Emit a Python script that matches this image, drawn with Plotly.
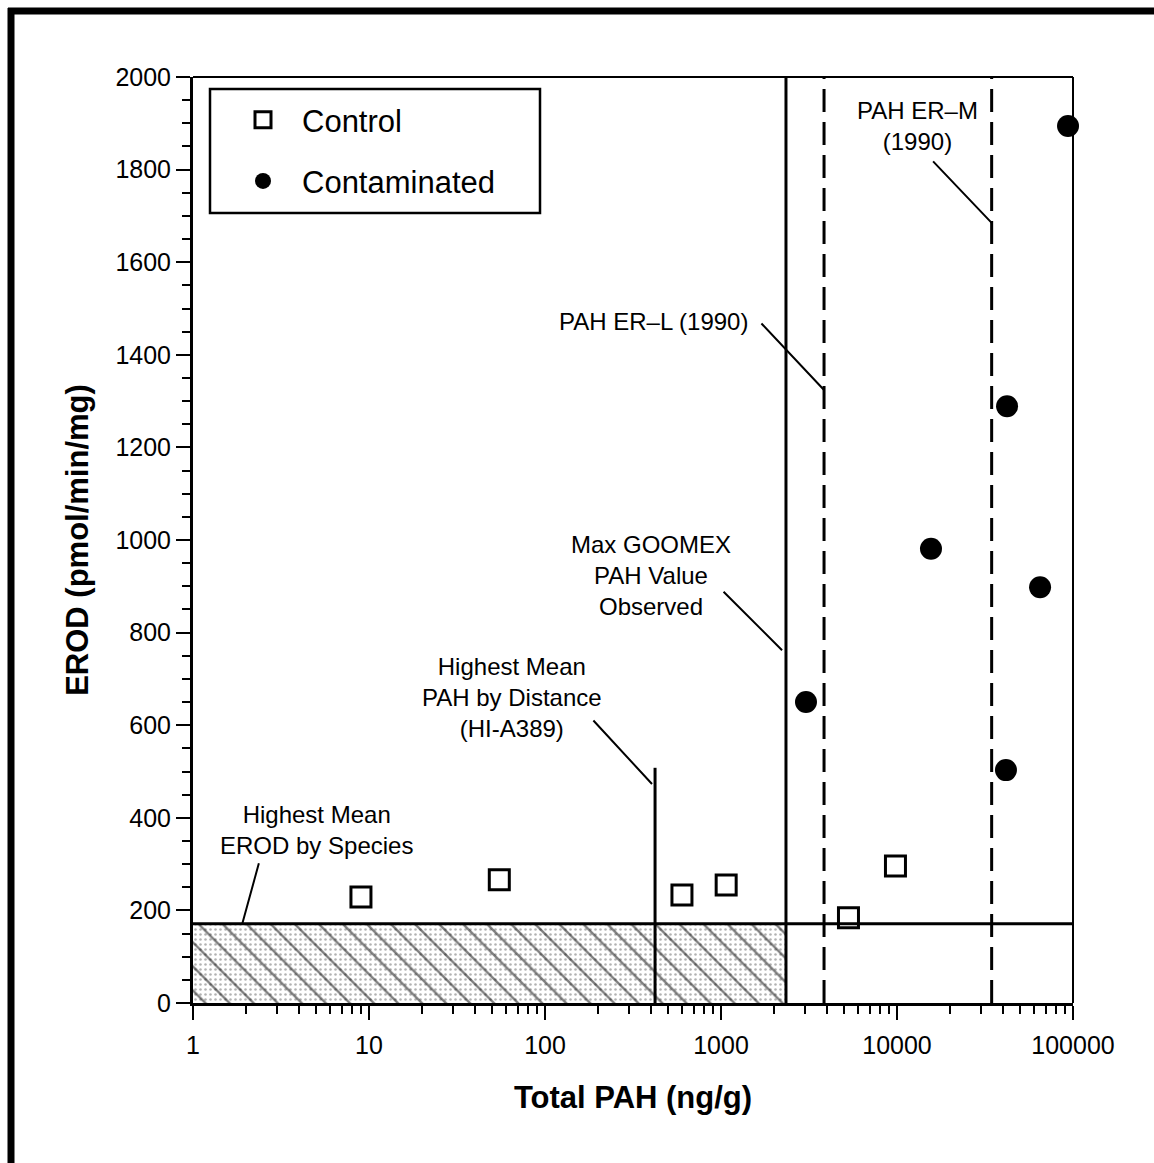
import math
import plotly.graph_objects as go

# ---- data -------------------------------------------------------------
control_pah = [9, 55, 600, 1070, 5300, 9800]
control_erod = [229, 266, 233, 255, 184, 296]

contam_pah = [3040, 15600, 42200, 41600, 65000, 93700]
contam_erod = [650, 981, 1289, 503, 898, 1894]

max_erod_by_species = 171      # EROD (pmol/min/mg)
max_goomex_pah = 2340          # ng/g
hi_a389_pah = 422              # ng/g
hi_a389_top = 508              # EROD extent of the HI-A389 marker line
er_l_1990 = 3850               # ng/g
er_m_1990 = 34500              # ng/g

x_ticks = [1, 10, 100, 1000, 10000, 100000]
x_tick_labels = ["1", "10", "100", "1000", "10000", "100000"]
y_ticks = list(range(0, 2001, 200))

# ---- layout geometry (pixels) ------------------------------------------
W, H = 1154, 1163
L, R, T, B = 193, 1073, 77, 1003
FONT = "Liberation Sans, Arial, Helvetica, sans-serif"


def px(x):
    return (x - L) / (R - L)


def py(y):
    return (B - y) / (B - T)


fig = go.Figure()

# shaded "background" zone: stipple + diagonal hatching
zone_x = [1, max_goomex_pah, max_goomex_pah, 1, 1]
zone_y = [0, 0, max_erod_by_species, max_erod_by_species, 0]
fig.add_trace(go.Scatter(
    x=zone_x, y=zone_y, mode="lines", line=dict(width=0),
    fill="toself", fillcolor="white",
    fillpattern=dict(shape=".", fgcolor="#666666", bgcolor="white",
                     size=5, solidity=0.2),
    hoverinfo="skip", showlegend=False))
fig.add_trace(go.Scatter(
    x=zone_x, y=zone_y, mode="lines", line=dict(width=0),
    fill="toself", fillcolor="rgba(0,0,0,0)",
    fillpattern=dict(shape="\\", fgcolor="black", bgcolor="rgba(0,0,0,0)",
                     size=17, solidity=0.14),
    hoverinfo="skip", showlegend=False))

# reference lines
def ref_line(xs, ys, dash="solid", width=3):
    fig.add_trace(go.Scatter(
        x=xs, y=ys, mode="lines",
        line=dict(color="black", width=width, dash=dash),
        hoverinfo="skip", showlegend=False))


ref_line([1, 100000], [max_erod_by_species, max_erod_by_species])
ref_line([max_goomex_pah, max_goomex_pah], [0, 2000])
ref_line([hi_a389_pah, hi_a389_pah], [0, hi_a389_top])
ref_line([er_l_1990, er_l_1990], [0, 2000], dash="23px,10px")
ref_line([er_m_1990, er_m_1990], [0, 2000], dash="23px,10px")

# data series
fig.add_trace(go.Scatter(
    x=control_pah, y=control_erod, mode="markers", name="Control",
    legendgroup="a",
    marker=dict(symbol="square-open", size=20, color="black",
                line=dict(width=3, color="black")),
    cliponaxis=False))
fig.add_trace(go.Scatter(
    x=contam_pah, y=contam_erod, mode="markers", name="Contaminated",
    legendgroup="b",
    marker=dict(symbol="circle", size=22, color="black"),
    cliponaxis=False))

# ---- annotations --------------------------------------------------------
labels = [
    ("Highest Mean<br>EROD by Species", 316, 830),
    ("Highest Mean<br>PAH by Distance<br>(HI-A389)", 512, 697),
    ("Max GOOMEX<br>PAH Value<br>Observed", 651, 575),
    ("PAH ER\u2013L (1990)", 653, 322),
    ("PAH ER\u2013M<br>(1990)", 917, 126),
]
annotations = []
for text, cx, cy in labels:
    annotations.append(dict(
        text=text, x=px(cx), y=py(cy), xref="paper", yref="paper",
        showarrow=False, xanchor="center", yanchor="middle",
        font=dict(family=FONT, size=24, color="black")))

# leader lines: (target x value, target y value, tail offset px)
leaders = [
    (10 ** 0.28, max_erod_by_species, 17, -62),
    (10 ** 2.608, 473, -60, -65),
    (10 ** 3.347, 762, -60, -60),
    (er_l_1990, 1324, -64, -68),
    (er_m_1990, 1685, -60, -63),
]
for lx, ly, ax, ay in leaders:
    annotations.append(dict(
        text="", x=math.log10(lx), y=ly, xref="x", yref="y",
        showarrow=True, arrowhead=0, arrowwidth=2, arrowcolor="black",
        ax=ax, ay=ay, standoff=0, startstandoff=0))

# ---- frame lines --------------------------------------------------------
shapes = [
    # outer page frame (left and top)
    dict(type="line", xref="paper", yref="paper",
         x0=px(11), x1=px(11), y0=py(8), y1=py(H + 5),
         line=dict(color="black", width=7)),
    dict(type="line", xref="paper", yref="paper",
         x0=px(8), x1=px(W + 5), y0=py(11), y1=py(11),
         line=dict(color="black", width=7)),
    # top and right edges of the plot box
    dict(type="line", xref="paper", yref="paper",
         x0=0, x1=1, y0=1, y1=1, line=dict(color="black", width=2)),
    dict(type="line", xref="paper", yref="paper",
         x0=1, x1=1, y0=0, y1=1, line=dict(color="black", width=2)),
    # legend box
    dict(type="rect", xref="paper", yref="paper",
         x0=px(210), x1=px(540), y0=py(213), y1=py(89),
         line=dict(color="black", width=2.5)),
]

fig.update_layout(
    width=W, height=H,
    margin=dict(l=L, r=W - R, t=T, b=H - B),
    paper_bgcolor="white", plot_bgcolor="white",
    font=dict(family=FONT, color="black"),
    showlegend=True,
    legend=dict(x=px(224), y=py(93), xanchor="left", yanchor="top",
                bgcolor="rgba(0,0,0,0)", borderwidth=0, itemwidth=68,
                font=dict(family=FONT, size=31, color="black"),
                traceorder="grouped", tracegroupgap=18),
    annotations=annotations,
    shapes=shapes,
    xaxis=dict(
        type="log", range=[0, 5], tickvals=x_ticks, ticktext=x_tick_labels,
        ticks="outside", ticklen=14, tickwidth=2, tickcolor="black",
        minor=dict(dtick="D1", ticks="outside", ticklen=8, tickwidth=2,
                   tickcolor="black", showgrid=False),
        showgrid=False, zeroline=False, showline=True, linewidth=3,
        linecolor="black", ticklabelstandoff=4,
        tickfont=dict(family=FONT, size=25, color="black"),
        title=dict(text="<b>Total PAH (ng/g)</b>", standoff=29,
                   font=dict(family=FONT, size=31, color="black")),
        automargin=False),
    yaxis=dict(
        range=[0, 2000], tickvals=y_ticks,
        ticks="outside", ticklen=14, tickwidth=2, tickcolor="black",
        minor=dict(dtick=50, ticks="outside", ticklen=8, tickwidth=2,
                   tickcolor="black", showgrid=False),
        showgrid=False, zeroline=False, showline=True, linewidth=3,
        linecolor="black",
        tickfont=dict(family=FONT, size=25, color="black"),
        title=dict(text="<b>EROD (pmol/min/mg)</b>", standoff=18,
                   font=dict(family=FONT, size=31, color="black")),
        automargin=False),
)

fig.write_html("out.html")
